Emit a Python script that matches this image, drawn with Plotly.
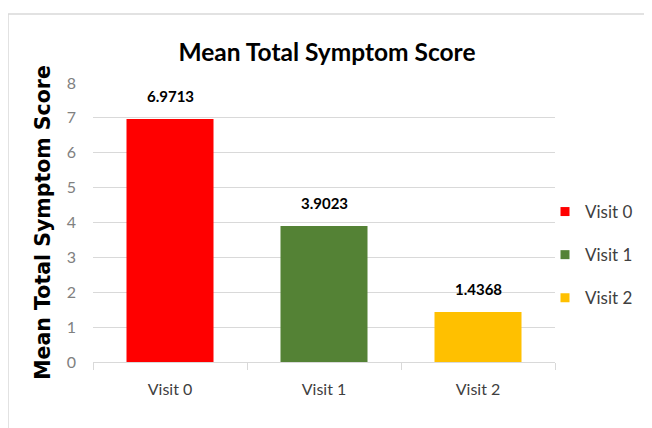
import plotly.graph_objects as go

# data
visits = ['Visit 0', 'Visit 1', 'Visit 2']
mean_scores = [6.9713, 3.9023, 1.4368]
bar_colors = ['#FF0000', '#548235', '#FFC000']
y_ticks = [0, 1, 2, 3, 4, 5, 6, 7, 8]

# page has an 8px body margin, so the figure is laid out in 644x420
W, H = 644, 420
L, R, T, B = 85, 97, 75, 66
PW, PH = W - L - R, H - T - B

fig = go.Figure()

for name, score, color in zip(visits, mean_scores, bar_colors):
    fig.add_trace(go.Bar(
        name=name,
        x=[name],
        y=[score],
        marker=dict(color=color, line=dict(width=0)),
        width=0.565,
        showlegend=False,
    ))
    # small square legend entries
    fig.add_trace(go.Scatter(
        name=name,
        x=[None], y=[None],
        mode='markers',
        marker=dict(symbol='square', size=9, color=color),
        legendgroup=name,
        showlegend=True,
    ))

# value labels above bars
for name, score in zip(visits, mean_scores):
    fig.add_annotation(
        x=name, y=score, text=f'<b>{score:.4f}</b>',
        showarrow=False, yanchor='bottom', yshift=12,
        font=dict(family='Lato', size=15, color='#000000'),
    )

fig.update_layout(
    width=W, height=H,
    margin=dict(l=L, r=R, t=T, b=B, autoexpand=False),
    paper_bgcolor='white',
    plot_bgcolor='white',
    barmode='overlay',
    title=dict(
        text='<b>Mean Total Symptom Score</b>',
        x=(L + PW / 2 + 3) / W, xanchor='center', xref='container',
        y=1 - 44 / H, yanchor='middle',
        font=dict(family='Lato', size=24.5, color='#000000'),
    ),
    xaxis=dict(
        showgrid=False,
        showline=True, linecolor='#D9D9D9', linewidth=1,
        ticks='outside', tickson='boundaries', ticklen=7, tickcolor='#D9D9D9',
        ticklabelstandoff=13,
        tickfont=dict(family='Lato', size=16, color='#404040'),
        categoryorder='array', categoryarray=visits,
    ),
    yaxis=dict(
        range=[0, 8],
        tickvals=y_ticks,
        showgrid=True, gridcolor='#D9D9D9', gridwidth=1,
        zeroline=False,
        showline=False,
        ticks='', ticklabelstandoff=16,
        tickfont=dict(family='Lato', size=16, color='#808080'),
        title=dict(
            text='<b>Mean Total Symptom Score</b>',
            font=dict(family='DejaVu Sans', size=20.5, color='#000000'),
            standoff=10,
        ),
    ),
    legend=dict(
        x=(537 - L) / PW, xanchor='left', xref='paper',
        y=1 - (247 - T) / PH, yanchor='middle', yref='paper',
        font=dict(family='Lato', size=17, color='#404040'),
        tracegroupgap=18, itemwidth=30,
        bgcolor='rgba(0,0,0,0)',
    ),
    shapes=[
        dict(type='line', xref='paper', yref='paper',
             x0=-L / PW, x1=1 + R / PW, y0=1 + (T - 6) / PH, y1=1 + (T - 6) / PH,
             line=dict(color='#D9D9D9', width=1.5)),
        dict(type='line', xref='paper', yref='paper',
             x0=-L / PW, x1=-L / PW, y0=1 + (T - 6) / PH, y1=-B / PH,
             line=dict(color='#D9D9D9', width=1.5)),
    ],
)

fig.write_html('out.html')
